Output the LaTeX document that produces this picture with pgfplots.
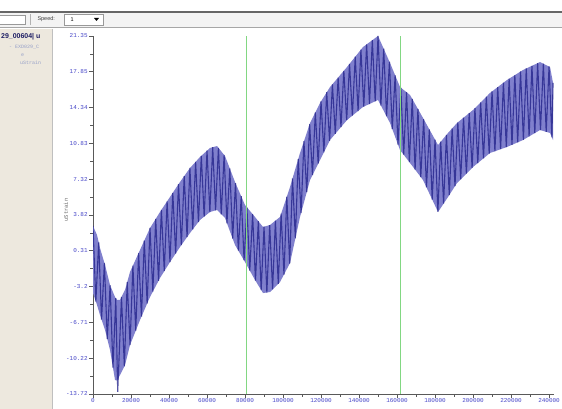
\documentclass[border=0pt]{standalone}
\usepackage{fontspec}
\setmainfont{Liberation Sans}
\newfontfamily\monofont{Liberation Mono}
\usepackage{pgfplots}
\pgfplotsset{compat=1.18}
\definecolor{tickblue}{RGB}{70,70,200}
\definecolor{bandfill}{RGB}{128,128,205}
\definecolor{bandline}{RGB}{30,30,135}
\definecolor{panelbg}{RGB}{237,232,222}
\definecolor{cursorgreen}{RGB}{130,215,130}
\definecolor{toolbg}{RGB}{243,243,243}
\definecolor{paneltext}{RGB}{150,160,200}
\definecolor{titlenavy}{RGB}{30,30,100}
\begin{document}
\begin{tikzpicture}
\useasboundingbox (0,0) rectangle (562bp,409bp);
\fill[white] (0,0) rectangle (562bp,409bp);
% toolbar
\fill[toolbg] (0,382bp) rectangle (562bp,397bp);
\draw[black!60, line width=1.5bp] (0,397bp) -- (562bp,397bp);
\draw[black!35, line width=0.6bp] (0,382bp) -- (562bp,382bp);
\draw[black!40, fill=white] (-1bp,385bp) rectangle (25bp,394bp);
\draw[black!30] (30bp,384bp) -- (30bp,395bp);
\node[anchor=west, font=\fontsize{5.5}{6}\selectfont, text=black!75] at (34bp,389.5bp) {Speed:};
\draw[black!40, fill=white] (64bp,384bp) rectangle (103bp,395bp);
\node[anchor=west, font=\fontsize{5.5}{6}\selectfont] at (67bp,389.5bp) {1};
\fill[black] (94bp,391bp) -- (99bp,391bp) -- (96.5bp,388bp) -- cycle;
% left panel
\fill[panelbg] (0,0) rectangle (52bp,380bp);
\draw[black!25] (52bp,0) -- (52bp,380bp);
\begin{scope}
\clip (0,0) rectangle (52bp,380bp);
\node[anchor=west, inner sep=0, font=\bfseries\fontsize{7}{8}\selectfont, text=titlenavy] at (1bp,372bp) {29\_00604| u};
\node[anchor=west, inner sep=0, font=\monofont\fontsize{5}{6}\selectfont, text=paneltext] at (9bp,362bp) {- EXD029\_C};
\node[anchor=west, inner sep=0, font=\monofont\fontsize{5}{6}\selectfont, text=paneltext] at (21bp,354bp) {e};
\node[anchor=west, inner sep=0, font=\monofont\fontsize{5}{6}\selectfont, text=paneltext] at (20bp,346bp) {uStrain};
\end{scope}
\begin{axis}[
  at={(93bp,15bp)}, anchor=south west, scale only axis,
  width=460.8bp, height=358bp,
  xmin=0, xmax=242500, ymin=-13.72, ymax=21.35,
  scaled x ticks=false, scaled y ticks=false,
  axis x line=bottom, axis y line=left,
  axis line style={-, black!65, line width=0.7bp},
  xtick={0,20000,40000,60000,80000,100000,120000,140000,160000,180000,200000,220000,240000},
  xticklabels={0,20000,40000,60000,80000,100000,120000,140000,160000,180000,200000,220000,240000},
  minor xtick={10000,30000,50000,70000,90000,110000,130000,150000,170000,190000,210000,230000},
  ytick={21.35,17.85,14.34,10.83,7.32,3.82,0.31,-3.2,-6.71,-10.22,-13.72},
  yticklabels={21.35,17.85,14.34,10.83,7.32,3.82,0.31,-3.2,-6.71,-10.22,-13.72},
  minor ytick={19.6,16.095,12.585,9.075,5.57,2.065,-1.445,-4.955,-8.465,-11.97},
  tick align=outside, major tick length=4bp, minor tick length=2.5bp,
  every tick/.style={black!65, line width=0.6bp},
  tick label style={font=\monofont\fontsize{6}{6}\selectfont, text=tickblue},
  xticklabel style={inner sep=0.6bp},
  yticklabel style={inner sep=1.2bp},
  ylabel={uStrain},
  every axis y label/.style={at={(axis description cs:-0.0586,0.514)}, rotate=90, anchor=center, font=\monofont\fontsize{5.5}{6}\selectfont, text=black!60},
]
\addplot[draw=none, fill=bandfill] coordinates {
(0,2.74) (2105,1.86) (3684,0.58) (6316,-1.08) (8947,-3.04) (11579,-4.22) (12631,-4.51) (14210,-4.51) (16842,-3.53) (19474,-1.77) (24736,0.39) (29999,2.54) (35262,4.11) (40525,5.58) (45788,7.05) (51051,8.42) (56314,9.50) (61577,10.38) (65261,10.57) (69472,9.59) (74735,7.05) (79998,4.79) (85261,3.62) (89471,2.64) (93155,2.84) (98418,3.62) (103681,6.56) (108944,9.89) (114207,12.83) (119470,14.79) (124733,16.35) (133680,18.31) (142101,20.27) (149996,21.35) (156311,18.71) (161574,16.35) (166837,15.57) (173679,13.32) (181574,10.67) (186837,11.85) (191573,12.83) (199994,14.10) (208941,15.77) (217888,17.04) (226309,18.02) (235256,18.80) (240519,18.31) (242098,16.75)
(242098,11.16) (240519,11.85) (235256,12.14) (226309,11.16) (217888,10.48) (208941,9.89) (199994,8.52) (191573,6.95) (186837,5.58) (181574,4.11) (173679,7.24) (166837,8.91) (161574,10.18) (156311,12.83) (149996,15.08) (142101,14.40) (133680,13.12) (124733,11.16) (119470,9.20) (114207,7.24) (108944,3.62) (103681,-0.89) (98418,-2.75) (93155,-3.73) (89471,-3.83) (85261,-2.55) (79998,-0.79) (74735,0.88) (69472,3.52) (65261,4.31) (61577,4.11) (56314,3.33) (51051,2.05) (45788,0.68) (40525,-0.79) (35262,-2.36) (29999,-4.22) (24736,-6.47) (19474,-8.92) (16842,-10.88) (14210,-11.86) (12631,-12.4) (11579,-12.35) (8947,-9.41) (6316,-7.45) (3684,-5.98) (2105,-5.00) (0,-3.83)
} -- cycle;
\addplot[bandline, line width=1.1bp, opacity=0.75, line join=miter] coordinates {
(0,2.74) (1500,-4.66) (3000,1.13) (4500,-6.44) (6000,-0.88) (7500,-8.33) (9000,-3.06) (10500,-11.14) (12000,-4.34) (13000,-13.52) (15000,-4.22) (16500,-11.01) (18000,-2.76) (19500,-8.93) (21000,-1.14) (22500,-7.51) (24000,0.09) (25500,-6.14) (27000,1.31) (28500,-4.86) (30000,2.54) (31500,-3.69) (33000,3.43) (34500,-2.63) (36000,4.32) (37500,-1.69) (39000,5.15) (40500,-0.80) (42000,5.99) (43500,0.04) (45000,6.83) (46500,0.86) (48000,7.63) (49500,1.65) (51000,8.42) (52500,2.40) (54000,9.02) (55500,3.13) (57000,9.61) (58500,3.65) (60000,10.12) (61500,4.11) (63000,10.45) (64500,4.27) (66000,10.40) (67500,3.89) (69000,9.70) (70500,3.00) (72000,8.37) (73500,1.50) (75000,6.94) (76500,0.32) (78000,5.65) (79500,-0.63) (81000,4.57) (82500,-1.63) (84000,3.90) (85500,-2.62) (87000,3.22) (88500,-3.54) (90000,2.67) (91500,-3.78) (93000,2.83) (94500,-3.48) (96000,3.26) (97500,-2.92) (99000,3.94) (100500,-2.02) (102000,5.62) (103500,-0.95) (105000,7.39) (106500,1.53) (108000,9.29) (109500,4.00) (111000,11.04) (112500,6.07) (114000,12.71) (115500,7.72) (117000,13.87) (118500,8.84) (120000,14.95) (121500,9.96) (123000,15.84) (124500,11.07) (126000,16.62) (127500,11.77) (129000,17.28) (130500,12.42) (132000,17.94) (133500,13.10) (135000,18.62) (136500,13.55) (138000,19.32) (139500,14.00) (141000,20.02) (142500,14.43) (144000,20.53) (145500,14.69) (147000,20.94) (148500,14.95) (150000,21.35) (151500,14.54) (153000,20.10) (154500,13.48) (156000,18.84) (157500,12.23) (159000,17.51) (160500,10.72) (162000,16.29) (163500,9.72) (165000,15.84) (166500,8.99) (168000,15.19) (169500,8.26) (171000,14.20) (172500,7.53) (174000,13.21) (175500,6.52) (177000,12.21) (178500,5.33) (180000,11.20) (181500,4.12) (183000,10.99) (184500,4.93) (186000,11.66) (187500,5.77) (189000,12.30) (190500,6.64) (192000,12.89) (193500,7.31) (195000,13.35) (196500,7.87) (198000,13.80) (199500,8.43) (201000,14.29) (202500,8.90) (204000,14.85) (205500,9.36) (207000,15.40) (208500,9.82) (210000,15.92) (211500,10.06) (213000,16.35) (214500,10.26) (216000,16.77) (217500,10.46) (219000,17.17) (220500,10.69) (222000,17.52) (223500,10.93) (225000,17.87) (226500,11.18) (228000,18.17) (229500,11.51) (231000,18.43) (232500,11.84) (234000,18.69) (235500,12.13) (237000,18.64) (238500,11.96) (240000,18.36) (241500,11.42) (242100,16.75)
};
\addplot[cursorgreen, line width=1bp] coordinates {(80790,-13.72) (80790,21.35)};
\addplot[cursorgreen, line width=1bp] coordinates {(161840,-13.72) (161840,21.35)};
\end{axis}
\end{tikzpicture}
\end{document}
